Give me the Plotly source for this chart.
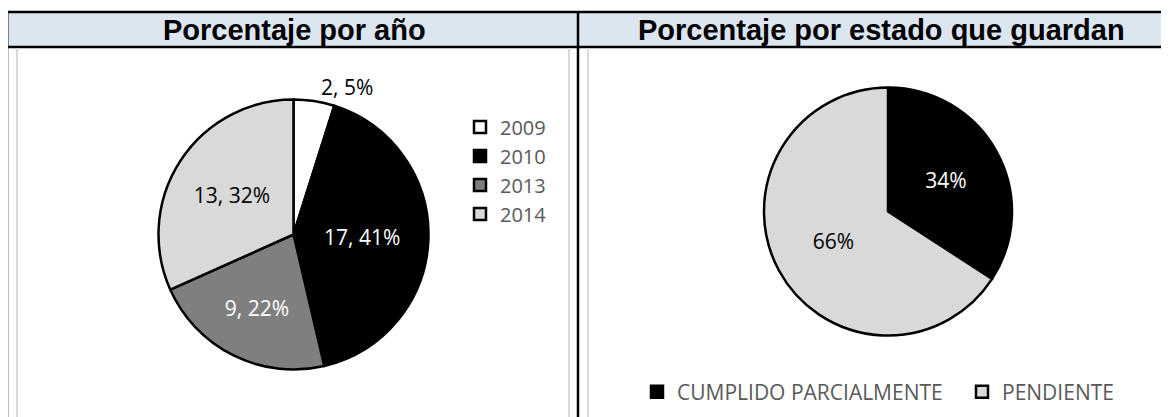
import plotly.graph_objects as go

# ---- data ----
years = ["2009", "2010", "2013", "2014"]
year_counts = [2, 17, 9, 13]
year_colors = ["#FFFFFF", "#000000", "#7F7F7F", "#D9D9D9"]
year_text_colors = ["black", "white", "white", "black"]
year_text_pos = ["outside", "inside", "inside", "inside"]

status = ["CUMPLIDO PARCIALMENTE", "PENDIENTE"]
status_counts = [14, 27]
status_colors = ["#000000", "#D9D9D9"]
status_text_colors = ["white", "black"]

titles = ["Porcentaje por año", "Porcentaje por estado que guardan"]

W, H = 1169, 417
OFF = 8  # page body margin of the html page


def px(x):
    return (x - OFF) / W


def py(y):
    return 1 - (y - OFF) / H


LABEL_FONT = "Open Sans"

fig = go.Figure()

fig.add_trace(go.Pie(
    labels=years, values=year_counts, sort=False, direction="clockwise", rotation=0,
    marker=dict(colors=year_colors, line=dict(color="black", width=2.5)),
    texttemplate="%{value}, %{percent:.0%}",
    textposition=year_text_pos,
    insidetextorientation="horizontal",
    insidetextfont=dict(color=year_text_colors, size=21, family=LABEL_FONT),
    outsidetextfont=dict(color="black", size=21, family=LABEL_FONT),
    domain=dict(x=[px(158.5), px(428.5)], y=[py(369.5), py(99.5)]),
    legend="legend", hoverinfo="label+value+percent",
))

fig.add_trace(go.Pie(
    labels=status, values=status_counts, sort=False, direction="clockwise", rotation=0,
    marker=dict(colors=status_colors, line=dict(color="black", width=2.5)),
    texttemplate="%{percent:.0%}",
    textposition="inside",
    insidetextorientation="horizontal",
    insidetextfont=dict(color=status_text_colors, size=21, family=LABEL_FONT),
    domain=dict(x=[px(764), px(1012)], y=[py(335.5), py(87.5)]),
    legend="legend2", hoverinfo="label+value+percent",
))

shapes = []
# header band
shapes.append(dict(type="rect", xref="paper", yref="paper", x0=px(7), x1=px(1200), y0=py(47), y1=py(12),
                   fillcolor="#DCE6F1", line=dict(color="black", width=2.5), layer="below"))
# black vertical borders
for x in (7, 578):
    shapes.append(dict(type="line", xref="paper", yref="paper", x0=px(x), x1=px(x), y0=py(12), y1=py(440),
                       line=dict(color="black", width=2.5)))
# gray chart-area borders
for x in (17, 569, 588):
    shapes.append(dict(type="line", xref="paper", yref="paper", x0=px(x), x1=px(x), y0=py(48), y1=py(440),
                       line=dict(color="#D9D9D9", width=2)))

annotations = [
    dict(text="<b>%s</b>" % titles[0], x=px(294), y=py(30), xref="paper", yref="paper",
         showarrow=False, xanchor="center", yanchor="middle",
         font=dict(family="Liberation Sans", size=29, color="black")),
    dict(text="<b>%s</b>" % titles[1], x=px(881), y=py(30), xref="paper", yref="paper",
         showarrow=False, xanchor="center", yanchor="middle",
         font=dict(family="Liberation Sans", size=29, color="black")),
]

fig.update_layout(
    width=W, height=H, margin=dict(l=0, r=0, t=0, b=0, autoexpand=False),
    paper_bgcolor="white", plot_bgcolor="white",
    shapes=shapes, annotations=annotations,
    legend=dict(x=px(460), y=py(107.5), xanchor="left", yanchor="top",
                font=dict(family=LABEL_FONT, size=20, color="#595959"),
                bgcolor="rgba(0,0,0,0)", tracegroupgap=0),
    legend2=dict(orientation="h", x=px(637), y=py(392), xanchor="left", yanchor="middle",
                 font=dict(family=LABEL_FONT, size=21, color="#595959"),
                 entrywidth=280, entrywidthmode="pixels",
                 bgcolor="rgba(0,0,0,0)"),
)

fig.write_html("out.html")
